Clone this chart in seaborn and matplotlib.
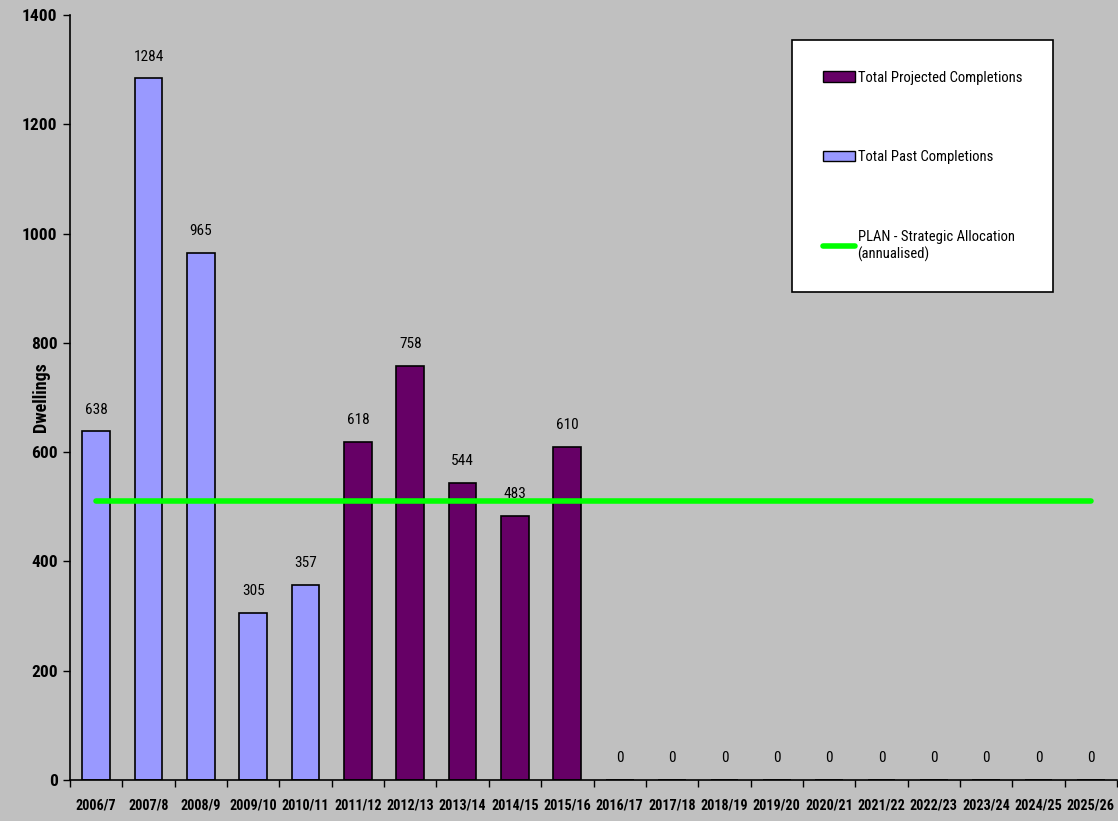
import numpy as np
import pandas as pd
import matplotlib.pyplot as plt
import seaborn as sns
from matplotlib.patches import Patch
from matplotlib.lines import Line2D

# ---- data ----
years = ['2006/7', '2007/8', '2008/9', '2009/10', '2010/11', '2011/12', '2012/13',
         '2013/14', '2014/15', '2015/16', '2016/17', '2017/18', '2018/19', '2019/20',
         '2020/21', '2021/22', '2022/23', '2023/24', '2024/25', '2025/26']
completions = [638, 1284, 965, 305, 357, 618, 758, 544, 483, 610,
               0, 0, 0, 0, 0, 0, 0, 0, 0, 0]
kind = ['Total Past Completions'] * 5 + ['Total Projected Completions'] * 15
plan_allocation = 511

df = pd.DataFrame({'year': years, 'dwellings': completions, 'kind': kind})

# ---- style ----
sns.set_theme(style='white')
plt.rcParams['font.family'] = ['Roboto Condensed', 'Liberation Sans', 'DejaVu Sans']

palette = {'Total Past Completions': '#9999ff',
           'Total Projected Completions': '#660066'}

fig = plt.figure(figsize=(11.18, 8.21), dpi=100)
fig.patch.set_facecolor('#c0c0c0')
ax = fig.add_axes([70 / 1118, 41 / 821, 1047 / 1118, 765 / 821])
ax.set_facecolor('#c0c0c0')

sns.barplot(data=df, x='year', y='dwellings', hue='kind', palette=palette,
            dodge=False, width=0.53, edgecolor='black', linewidth=1.2,
            saturation=1, legend=False, ax=ax)

# plan line
ax.plot([0, len(years) - 1], [plan_allocation] * 2, color='#00ff00', lw=4, zorder=3)

# value labels
for i, v in enumerate(completions):
    ax.text(i, v + 40, f'{v}', ha='center', va='center', fontsize=11, color='black')

ax.set_xlim(-0.5, len(years) - 0.5)
ax.set_ylim(0, 1400)
ax.set_yticks(range(0, 1401, 200))
ax.set_xlabel('')
ax.set_ylabel('Dwellings', fontsize=13, fontweight='bold', color='black')
ax.yaxis.set_label_coords(-20 / 1047, 0.5)

for lab in ax.get_yticklabels():
    lab.set_fontweight('bold')
    lab.set_fontsize(12.5)
for lab in ax.get_xticklabels():
    lab.set_fontweight('bold')
    lab.set_fontsize(10.2)

# ticks between categories like the spreadsheet original
ax.set_xticks(np.arange(-0.5, len(years)), minor=True)
ax.tick_params(axis='x', which='major', length=0, pad=13, labelcolor='black')
ax.tick_params(axis='x', which='minor', length=5, width=1, direction='out',
               color='black', bottom=True)
ax.tick_params(axis='y', length=5, width=1, direction='out', color='black',
               left=True, labelcolor='black', pad=4)

for s in ['top', 'right']:
    ax.spines[s].set_visible(False)
for s in ['left', 'bottom']:
    ax.spines[s].set_color('black')
    ax.spines[s].set_linewidth(1.2)

handles = [Patch(facecolor=palette['Total Projected Completions'], edgecolor='black'),
           Patch(facecolor=palette['Total Past Completions'], edgecolor='black'),
           Line2D([0], [0], color='#00ff00', lw=4)]
labels = ['Total Projected Completions', 'Total Past Completions',
          'PLAN - Strategic Allocation\n(annualised)']
leg = ax.legend(handles, labels, loc='upper left',
                bbox_to_anchor=(722 / 1047, 1 - 25 / 765),
                frameon=True, fancybox=False, framealpha=1, fontsize=10.5,
                labelspacing=4.5, handlelength=2.2, handleheight=0.7,
                handletextpad=0.2, borderpad=2.1, borderaxespad=0)
leg.get_frame().set_edgecolor('black')
leg.get_frame().set_facecolor('white')
leg.get_frame().set_linewidth(1.2)
for t in leg.get_texts():
    t.set_color('black')

plt.savefig('out.png', dpi=100, facecolor=fig.get_facecolor())
